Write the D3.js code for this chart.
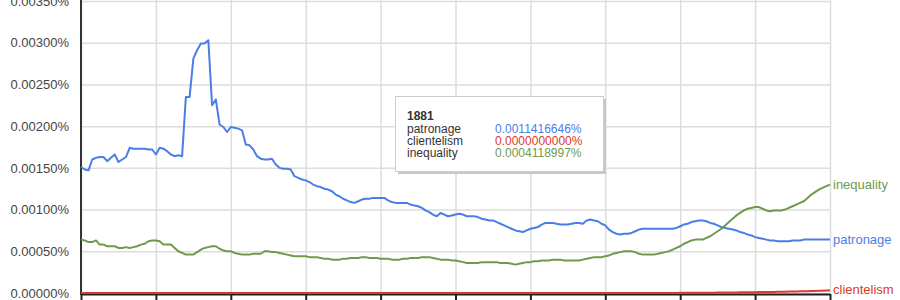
<!DOCTYPE html>
<meta charset="utf-8">
<script src="https://d3js.org/d3.v7.min.js"></script>
<style>
body { margin: 0; background: #fff; }
svg { display: block; font-family: "Liberation Sans", Arial, sans-serif; }
.grid line { stroke: #ddd; stroke-width: 1.5px; }
.grid path { display: none; }
.yaxis text { font-size: 13px; fill: #444; }
.yaxis path, .yaxis line { display: none; }
.tip text { font-size: 12px; }
</style>
<body>
<script>
// yearly frequencies, in percent
var years = d3.range(1800, 2001);

var patronage = [
  0.00151, 0.00148, 0.00147, 0.00160, 0.00162, 0.00163, 0.00163, 0.00158, 0.00162, 0.00166,
  0.00157, 0.00160, 0.00163, 0.00174, 0.00173, 0.00173, 0.00173, 0.00173, 0.00172, 0.00172,
  0.00166, 0.00174, 0.00173, 0.00170, 0.00166, 0.00164, 0.00165, 0.00164, 0.00235, 0.00235,
  0.00281, 0.00291, 0.00299, 0.00299, 0.00303, 0.00225, 0.00232, 0.00202, 0.00199, 0.00193,
  0.00199, 0.00198, 0.00197, 0.00195, 0.00178, 0.00177, 0.00172, 0.00164, 0.00161, 0.00160,
  0.00160, 0.00161, 0.00154, 0.00150, 0.00149, 0.00149, 0.00148, 0.00140, 0.00138, 0.00136,
  0.00135, 0.00133, 0.00130, 0.00128, 0.00127, 0.00125, 0.00124, 0.00122, 0.00118, 0.00116,
  0.00113, 0.00111, 0.00109, 0.00108, 0.00110, 0.00112, 0.00113, 0.00113, 0.00114, 0.00114,
  0.00114, 0.00114, 0.00111, 0.00109, 0.00108, 0.00108, 0.00108, 0.00108, 0.00106, 0.00105,
  0.00104, 0.00102, 0.00099, 0.00097, 0.00094, 0.00092, 0.00096, 0.00094, 0.00092, 0.00093,
  0.00094, 0.00095, 0.00094, 0.00092, 0.00092, 0.00092, 0.00091, 0.00089, 0.00088, 0.00087,
  0.00087, 0.00085, 0.00083, 0.00081, 0.00079, 0.00077, 0.00075, 0.00074, 0.00073, 0.00075,
  0.00077, 0.00078, 0.00079, 0.00082, 0.00084, 0.00084, 0.00084, 0.00083, 0.00082, 0.00082,
  0.00082, 0.00083, 0.00084, 0.00084, 0.00083, 0.00087, 0.00088, 0.00087, 0.00086, 0.00083,
  0.00081, 0.00076, 0.00073, 0.00071, 0.00070, 0.00071, 0.00071, 0.00072, 0.00074, 0.00076,
  0.00077, 0.00077, 0.00077, 0.00077, 0.00077, 0.00077, 0.00077, 0.00077, 0.00077, 0.00078,
  0.00080, 0.00082, 0.00083, 0.00085, 0.00086, 0.00087, 0.00087, 0.00086, 0.00084, 0.00083,
  0.00081, 0.00079, 0.00078, 0.00077, 0.00076, 0.00075, 0.00073, 0.00072, 0.00070, 0.00069,
  0.00067, 0.00066, 0.00065, 0.00064, 0.00063, 0.00063, 0.00062, 0.00062, 0.00062, 0.00062,
  0.00063, 0.00063, 0.00063, 0.00064, 0.00064, 0.00064, 0.00064, 0.00064, 0.00064, 0.00064,
  0.00064
];

var clientelism = [
  0, 0, 0, 0, 0, 0, 0, 0, 0, 0, 0, 0, 0, 0, 0, 0, 0, 0, 0, 0,
  0, 0, 0, 0, 0, 0, 0, 0, 0, 0, 0, 0, 0, 0, 0, 0, 0, 0, 0, 0,
  0, 0, 0, 0, 0, 0, 0, 0, 0, 0, 0, 0, 0, 0, 0, 0, 0, 0, 0, 0,
  0, 0, 0, 0, 0, 0, 0, 0, 0, 0, 0, 0, 0, 0, 0, 0, 0, 0, 0, 0,
  0, 0, 0, 0, 0, 0, 0, 0, 0, 0, 0, 0, 0, 0, 0, 0, 0, 0, 0, 0,
  0, 0, 0, 0, 0, 0, 0, 0, 0, 0, 0, 0, 0, 0, 0, 0, 0, 0, 0, 0,
  0, 0, 0, 0, 0, 0, 0, 0, 0, 0, 0, 0, 0, 0, 0, 0, 0, 0, 0, 0,
  0, 0, 0, 0, 0, 0, 0, 0, 0, 0, 0, 0, 0, 0, 0,
  0.000001, 0.000001, 0.000001, 0.000001, 0.000001,
  0.000002, 0.000002, 0.000002, 0.000003, 0.000003, 0.000003, 0.000003, 0.000004, 0.000004, 0.000004,
  0.000005, 0.000005, 0.000006, 0.000006, 0.000007, 0.000007, 0.000008, 0.000008, 0.000009, 0.000009,
  0.000010, 0.000011, 0.000011, 0.000012, 0.000013, 0.000013, 0.000014, 0.000015, 0.000016, 0.000017,
  0.000018, 0.000019, 0.000020, 0.000021, 0.000022, 0.000023, 0.000024, 0.000026, 0.000027, 0.000029,
  0.000030
];

var inequality = [
  0.00064, 0.00063, 0.00061, 0.00061, 0.00063, 0.00058, 0.00058, 0.00056, 0.00056, 0.00056,
  0.00054, 0.00054, 0.00055, 0.00054, 0.00055, 0.00056, 0.00058, 0.00059, 0.00062, 0.00063,
  0.00063, 0.00062, 0.00058, 0.00058, 0.00058, 0.00054, 0.00050, 0.00048, 0.00046, 0.00046,
  0.00046, 0.00049, 0.00052, 0.00054, 0.00055, 0.00056, 0.00056, 0.00053, 0.00051, 0.00050,
  0.00050, 0.00048, 0.00047, 0.00046, 0.00046, 0.00046, 0.00047, 0.00047, 0.00047, 0.00050,
  0.00050, 0.00049, 0.00049, 0.00048, 0.00047, 0.00046, 0.00045, 0.00044, 0.00044, 0.00044,
  0.00044, 0.00043, 0.00043, 0.00043, 0.00042, 0.00041, 0.00041, 0.00040, 0.00040, 0.00040,
  0.00041, 0.00041, 0.00042, 0.00042, 0.00042, 0.00043, 0.00043, 0.00042, 0.00042, 0.00042,
  0.00041, 0.00041, 0.00041, 0.00040, 0.00040, 0.00040, 0.00041, 0.00041, 0.00042, 0.00042,
  0.00042, 0.00043, 0.00043, 0.00043, 0.00042, 0.00041, 0.00040, 0.00040, 0.00040, 0.00039,
  0.00039, 0.00038, 0.00037, 0.00036, 0.00036, 0.00036, 0.00036, 0.00037, 0.00037, 0.00037,
  0.00037, 0.00037, 0.00036, 0.00036, 0.00036, 0.00035, 0.00034, 0.00035, 0.00036, 0.00037,
  0.00037, 0.00038, 0.00038, 0.00039, 0.00039, 0.00039, 0.00040, 0.00040, 0.00040, 0.00039,
  0.00039, 0.00039, 0.00039, 0.00039, 0.00040, 0.00041, 0.00042, 0.00043, 0.00043, 0.00043,
  0.00044, 0.00045, 0.00047, 0.00048, 0.00049, 0.00050, 0.00050, 0.00050, 0.00049, 0.00047,
  0.00046, 0.00046, 0.00046, 0.00046, 0.00047, 0.00048, 0.00049, 0.00050, 0.00052, 0.00054,
  0.00056, 0.00059, 0.00061, 0.00063, 0.00064, 0.00064, 0.00064, 0.00066, 0.00068, 0.00071,
  0.00074, 0.00077, 0.00081, 0.00085, 0.00089, 0.00093, 0.00096, 0.00099, 0.00101, 0.00102,
  0.00103, 0.00103, 0.00101, 0.00099, 0.00098, 0.00099, 0.00099, 0.00099, 0.00100, 0.00102,
  0.00104, 0.00106, 0.00108, 0.00110, 0.00114, 0.00118, 0.00121, 0.00124, 0.00126, 0.00128,
  0.00130
];

var seriesNames = ["patronage", "clientelism", "inequality"];
var seriesColors = ["#4a7ee6", "#dc3a2c", "#6f9a4c"];
var seriesValues = [patronage, clientelism, inequality];
var yTicks = [0, 0.0005, 0.001, 0.0015, 0.002, 0.0025, 0.003, 0.0035];
var xTicks = [1800, 1820, 1840, 1860, 1880, 1900, 1920, 1940, 1960, 1980, 2000];

var tipYear = 1881;
var tipValues = ["0.0011416646%", "0.0000000000%", "0.0004118997%"];

var width = 900, height = 300;
var pLeft = 81, pRight = 830, pTop = 1, pBottom = 293;

var svg = d3.select("body").append("svg")
    .attr("width", width)
    .attr("height", height);

var x = d3.scaleLinear().domain([1800, 2000]).range([pLeft, pRight]);
var y = d3.scaleLinear().domain([0, 0.0035]).range([pBottom, pTop]);

// gridlines
svg.append("g")
    .attr("class", "grid")
    .attr("transform", "translate(0," + pBottom + ")")
    .call(d3.axisBottom(x).tickValues(xTicks).tickSize(-(pBottom - pTop + 10)).tickFormat(""));

svg.append("g")
    .attr("class", "grid")
    .attr("transform", "translate(" + pLeft + ",0)")
    .call(d3.axisLeft(y).tickValues(yTicks).tickSize(-(pRight - pLeft)).tickFormat(""));

// y labels
svg.append("g")
    .attr("class", "yaxis")
    .attr("transform", "translate(" + (pLeft - 9) + ",0)")
    .call(d3.axisLeft(y).tickValues(yTicks).tickSize(0)
      .tickFormat(function(d) { return d3.format(".5f")(d) + "%"; }));

// axis lines
svg.append("line")
    .attr("x1", pLeft).attr("x2", pLeft)
    .attr("y1", 0).attr("y2", pBottom + 2)
    .attr("stroke", "#333").attr("stroke-width", 2);

var xAxis = svg.append("g")
    .attr("transform", "translate(0," + (pBottom + 1) + ")")
    .call(d3.axisBottom(x).tickValues(xTicks).tickSize(6).tickSizeOuter(0).tickFormat(""));
xAxis.select(".domain").attr("stroke", "#222").attr("stroke-width", 2);
xAxis.selectAll(".tick line").attr("stroke", "#222").attr("stroke-width", 2);

// lines
var line = d3.line()
    .x(function(d) { return x(d[0]); })
    .y(function(d) { return y(d[1]); });

seriesNames.forEach(function(name, i) {
  var pts = years.map(function(yr, j) { return [yr, seriesValues[i][j]]; });
  svg.append("path")
      .datum(pts)
      .attr("fill", "none")
      .attr("stroke", seriesColors[i])
      .attr("stroke-width", 2)
      .attr("stroke-linejoin", "round")
      .attr("d", line);

  var last = seriesValues[i][seriesValues[i].length - 1];
  svg.append("text")
      .attr("x", pRight + 3)
      .attr("y", Math.min(y(last), pBottom - 4))
      .attr("dy", "0.35em")
      .attr("fill", seriesColors[i])
      .attr("font-size", "13px")
      .text(name);
});

// tooltip box
var tip = svg.append("g").attr("class", "tip").attr("transform", "translate(395,96)");
tip.append("rect")
    .attr("x", 3).attr("y", 3)
    .attr("width", 208).attr("height", 75)
    .attr("fill", "#c8c8c8");
tip.append("rect")
    .attr("x", 0.5).attr("y", 0.5)
    .attr("width", 208).attr("height", 75)
    .attr("fill", "#fff")
    .attr("stroke", "#ccc");
tip.append("text")
    .attr("x", 12).attr("y", 23.5)
    .attr("font-weight", "bold")
    .attr("font-size", "11px")
    .attr("fill", "#333")
    .text(tipYear);
seriesNames.forEach(function(name, i) {
  tip.append("text")
      .attr("x", 12).attr("y", 36.5 + i * 12)
      .attr("fill", "#333")
      .text(name);
  tip.append("text")
      .attr("x", 100).attr("y", 36.5 + i * 12)
      .attr("fill", seriesColors[i])
      .text(tipValues[i]);
});
</script>
</body>
